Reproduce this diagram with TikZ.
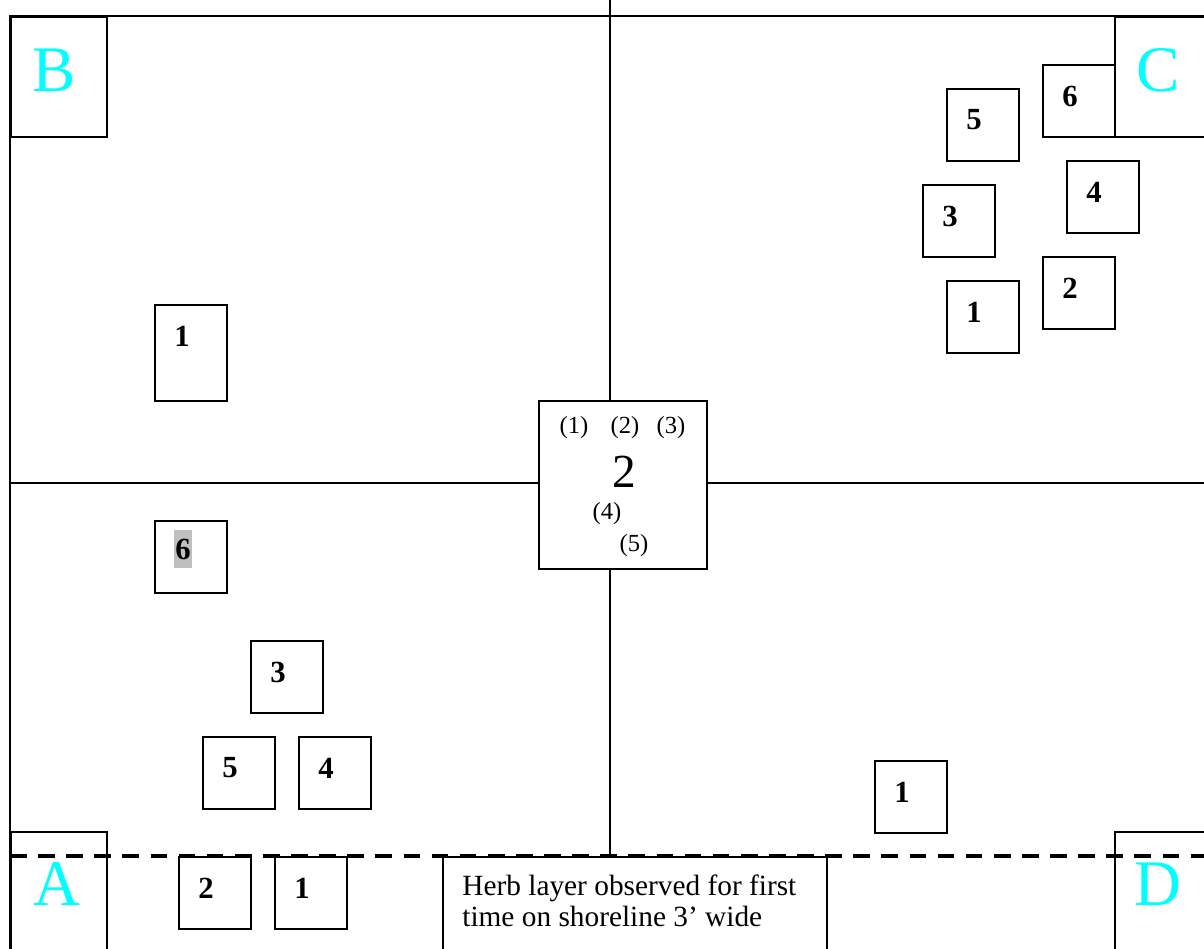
\documentclass[tikz,border=0pt]{standalone}
\usepackage{fontspec}
\setmainfont{Liberation Serif}
\usetikzlibrary{calc}

\definecolor{cornercyan}{rgb}{0,1,1}

\tikzset{
	frameline/.style = {line width = 1.1pt},
	plotbox/.style = {draw, line width = 1.1pt, anchor = north west, inner sep = 0pt, minimum width = 1.44cm, minimum height = 1.44cm},
	cornerbox/.style = {draw, line width = 1.1pt, anchor = north west, inner sep = 0pt, minimum width = 1.92cm, minimum height = 2.4cm},
	num/.style = {font = \fontsize{17.5}{20}\selectfont\bfseries, inner sep = 0pt},
	cornerlbl/.style = {text = cornercyan, font = \fontsize{37}{40}\selectfont},
	sub/.style = {font = \fontsize{14}{16}\selectfont, inner sep = 0pt},
}

\begin{document}
\begin{tikzpicture}[x = 0.02cm, y = -0.02cm]
	\useasboundingbox (0, 0) rectangle (1204, 949);
	\clip (0, 0) rectangle (1204, 949);
	
	% frame
	\coordinate (tl) at (10, 16);
	\coordinate (tr) at (1204, 16);
	\coordinate (bl) at (10, 949);
	\draw[frameline] (tr) -- (tl) -- (bl);
	
	% corner boxes
	\node[cornerbox] (boxB) at (10, 16) {};
	\node[cornerbox] (boxC) at (1114, 16) {};
	\node[cornerbox] (boxA) at (10, 831) {};
	\node[cornerbox] (boxD) at (1114, 831) {};
	\node[cornerlbl] (lblB) at (54, 70) {B};
	\node[cornerlbl] (lblC) at (1158, 70) {C};
	\node[cornerlbl] (lblA) at (57, 884) {A};
	\node[cornerlbl] (lblD) at (1158, 884) {D};
	
	% centre plot
	\node[draw, line width = 1.1pt, anchor = north west, inner sep = 0pt, minimum width = 3.36cm, minimum height = 3.36cm] (mid) at (538, 400) {};
	\node[sub] (s1) at (574, 428) {(1)};
	\node[sub] (s2) at (625, 428) {(2)};
	\node[sub] (s3) at (671, 428) {(3)};
	\node[font = \fontsize{27}{30}\selectfont] (two) at (624, 472) {2};
	\node[sub] (s4) at (607, 514) {(4)};
	\node[sub] (s5) at (634, 546) {(5)};
	
	% quadrant lines
	\coordinate (top) at (610, 0);
	\coordinate (bot) at (610, 856);
	\coordinate (left) at (10, 483);
	\coordinate (right) at (1204, 483);
	\draw[frameline] (top) -- (top |- mid.north);
	\draw[frameline] (bot |- mid.south) -- (bot);
	\draw[frameline] (left) -- (left -| mid.west);
	\draw[frameline] (right -| mid.east) -- (right);
	
	% plots
	\node[plotbox, minimum height = 1.92cm] (b1) at (154, 304) {};
	\node[num] (b1t) at ($(b1.north west) + (28, 32)$) {1};
	\foreach \n/\x/\y/\t in {c6/1042/64/6, c5/946/88/5, c3/922/184/3, c4/1066/160/4, c2/1042/256/2, c1/946/280/1, a3/250/640/3, a5/202/736/5, a4/298/736/4, a2/178/856/2, a1/274/856/1, d1/874/760/1}
	{
		\node[plotbox] (\n) at (\x, \y) {};
		\node[num] (\n t) at ($(\n.north west) + (28, 32)$) {\t};
	}
	\node[plotbox] (a6) at (154, 520) {};
	\node[num, fill = black!25, text height = 17pt, text depth = 4.5pt, inner xsep = 1pt] (a6t) at ($(a6.north west) + (29, 29)$) {6};
	
	% note
	\node[draw, line width = 1.1pt, anchor = north west, minimum width = 7.68cm, minimum height = 2cm] (note) at (442, 856) {};
	\node[anchor = west, align = left, inner sep = 0pt, font = \fontsize{16.7}{17.5}\selectfont] (notet) at (462, 901) {Herb layer observed for first\\time on shoreline 3’ wide};
	
	% shoreline
	\coordinate (sl) at (10, 856);
	\coordinate (sr) at (1204, 856);
	\draw[line width = 2.3pt, dash pattern = on 9.5pt off 6.5pt] (sl) -- (sr);
\end{tikzpicture}
\end{document}
